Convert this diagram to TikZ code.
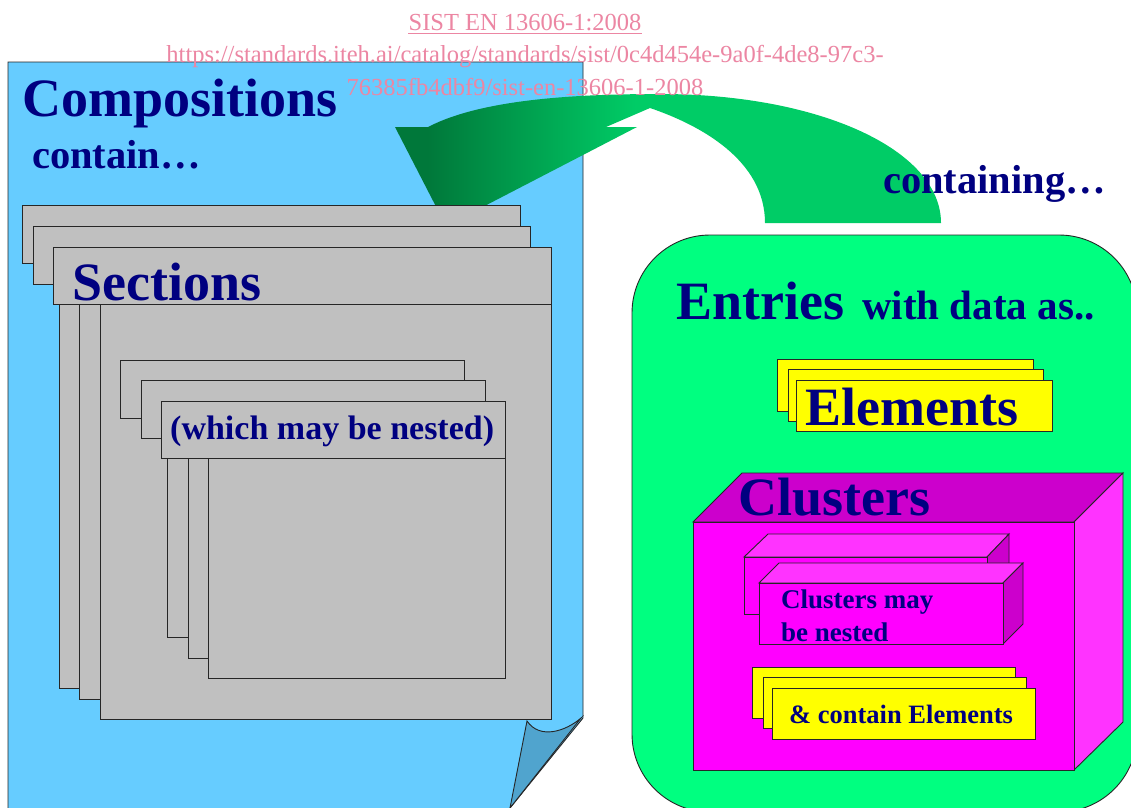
\documentclass[tikz,border=0pt]{standalone}
\usepackage{fontspec}
\setmainfont{Liberation Serif}
\definecolor{navy}{RGB}{0,0,128}
\definecolor{docblue}{RGB}{102,204,255}
\definecolor{foldblue}{RGB}{80,164,206}
\definecolor{secgray}{RGB}{192,192,192}
\definecolor{entgreen}{RGB}{0,255,128}
\definecolor{magfront}{RGB}{255,0,255}
\definecolor{magdark}{RGB}{204,0,204}
\definecolor{maglight}{RGB}{255,51,255}
\definecolor{elyellow}{RGB}{255,255,0}
\definecolor{ardark}{RGB}{0,120,58}
\definecolor{arbright}{RGB}{0,204,102}
\definecolor{wmpink}{RGB}{236,134,163}
\pgfdeclarehorizontalshading{arrowgrad}{100bp}{color(0bp)=(ardark); color(28bp)=(ardark); color(47bp)=(arbright); color(100bp)=(arbright)}
\newcommand\fsz[1]{\fontsize{#1}{#1}\selectfont}
\begin{document}
\begin{tikzpicture}[x=1pt,y=-1pt,
  edge/.style={draw=black!85, line width=0.9pt},
  gbox/.style={edge, fill=secgray},
  ybox/.style={edge, fill=elyellow},
  lbl/.style={inner sep=0pt, anchor=base west, text=navy},
  wm/.style={inner sep=0pt, anchor=base, text=wmpink, font=\fsz{24.5}}]
\useasboundingbox (0,0) rectangle (1131,807);
\clip (0,0) rectangle (1131,807);
\fill[white] (0,0) rectangle (1131,807);
% composition document
\draw[edge, fill=docblue] (8,830) -- (8,62) -- (583,62) -- (583,718) -- (510,808) -- (500,830) -- cycle;
\draw[edge, fill=foldblue] (527,721) .. controls (540,740) and (566,731) .. (581,718) -- (510,808) -- cycle;
% green curved arrow
\shade[shading=arrowgrad] (428,127) .. controls (480,100) and (570,94) .. (660,94)
  .. controls (820,94) and (941,150) .. (941,223) -- (765,223)
  .. controls (765,160) and (700,125) .. (650,108) -- (606,127) -- (637,127)
  -- (446,226) -- (395,127) -- cycle;
% sections windows
\draw[gbox] (59,263) rectangle (520,688);
\draw[gbox] (22,205) rectangle (520,263);
\draw[gbox] (79,284) rectangle (530,699);
\draw[gbox] (33,226) rectangle (530,284);
\draw[gbox] (100,304) rectangle (551,719);
\draw[gbox] (53,247) rectangle (551,304);
% nested windows
\draw[gbox] (167,418) rectangle (464,637);
\draw[gbox] (120,360) rectangle (464,418);
\draw[gbox] (188,438) rectangle (485,658);
\draw[gbox] (141,380) rectangle (485,438);
\draw[gbox] (208,458) rectangle (505,678);
\draw[gbox] (161,401) rectangle (505,458);
% entries box
\draw[edge, fill=entgreen, rounded corners=78pt] (632,235) rectangle (1137,812);
% elements cards
\draw[ybox] (777,359) rectangle (1033,411);
\draw[ybox] (788,369) rectangle (1043,421);
\draw[ybox] (796,380) rectangle (1052,431);
% clusters cube
\draw[edge, fill=magdark] (693,522) -- (1074,522) -- (1123,473) -- (742,473) -- cycle;
\draw[edge, fill=maglight] (1074,522) -- (1123,473) -- (1123,722) -- (1074,770) -- cycle;
\draw[edge, fill=magfront] (693,522) rectangle (1074,770);
% nested cluster cubes
\draw[edge, fill=maglight] (744,557) -- (987,557) -- (1009,534) -- (768,534) -- cycle;
\draw[edge, fill=magdark] (987,557) -- (1009,534) -- (1009,591) -- (987,614) -- cycle;
\draw[edge, fill=magfront] (744,557) rectangle (987,614);
\draw[edge, fill=maglight] (759,583) -- (1003,583) -- (1023,563) -- (779,563) -- cycle;
\draw[edge, fill=magdark] (1003,583) -- (1023,563) -- (1023,624) -- (1003,644) -- cycle;
\draw[edge, fill=magfront] (759,583) rectangle (1003,644);
% contain elements cards
\draw[ybox] (752,667) rectangle (1015,718);
\draw[ybox] (763,677) rectangle (1026,728);
\draw[ybox] (772,688) rectangle (1035,739);
% labels
\node[lbl, font=\fsz{54}\bfseries] (comp) at (22,116) {Compositions};
\node[lbl, font=\fsz{40.5}\bfseries] (contain) at (32,168) {contain…};
\node[lbl, font=\fsz{40.5}\bfseries] (containing) at (883,193) {containing…};
\node[lbl, font=\fsz{54}\bfseries] (sect) at (72,300) {Sections};
\node[lbl, font=\fsz{34}\bfseries] (nest) at (170,439) {(which may be nested)};
\node[lbl, font=\fsz{54}\bfseries] (entr) at (676,319) {Entries};
\node[lbl, font=\fsz{41}\bfseries] (wdata) at (862,319) {with data as..};
\node[lbl, font=\fsz{54}\bfseries] (elem) at (805,425) {Elements};
\node[lbl, font=\fsz{54}\bfseries] (clus) at (738,515) {Clusters};
\node[lbl, font=\fsz{27}\bfseries] (cmay) at (781,608) {Clusters may};
\node[lbl, font=\fsz{27}\bfseries] (bnest) at (781,641) {be nested};
\node[lbl, font=\fsz{26.5}\bfseries] (celem) at (789,723) {\& contain Elements};
% watermark
\node[wm] (wm1) at (525,30) {SIST EN 13606-1:2008};
\draw[wmpink, line width=1pt] ([yshift=-3pt]wm1.base west) -- ([yshift=-3pt]wm1.base east);
\node[wm] (wm2) at (525,62) {https://standards.iteh.ai/catalog/standards/sist/0c4d454e-9a0f-4de8-97c3-};
\node[wm] (wm3) at (525,95) {76385fb4dbf9/sist-en-13606-1-2008};
\end{tikzpicture}
\end{document}
